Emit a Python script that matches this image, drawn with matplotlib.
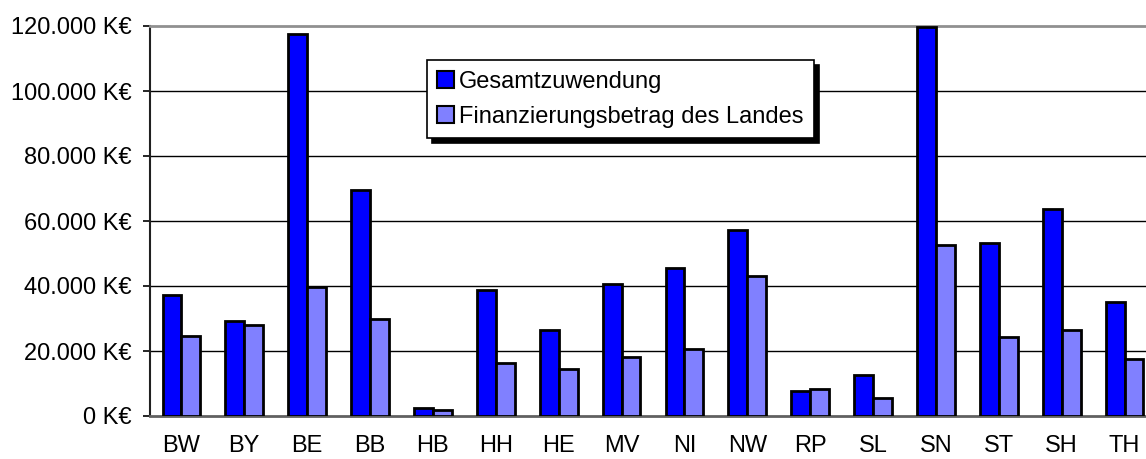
import matplotlib.pyplot as plt
import numpy as np
from matplotlib.ticker import FuncFormatter

plt.rcParams['font.family'] = ['Liberation Sans', 'DejaVu Sans']

laender = ["BW", "BY", "BE", "BB", "HB", "HH", "HE", "MV",
           "NI", "NW", "RP", "SL", "SN", "ST", "SH", "TH"]
gesamt = [37.2, 29.2, 117.4, 69.5, 2.5, 38.9, 26.4, 40.6,
          45.6, 57.2, 7.6, 12.6, 119.7, 53.1, 63.6, 35.0]
land = [24.6, 27.9, 39.6, 29.9, 1.9, 16.2, 14.6, 18.3,
        20.5, 43.1, 8.3, 5.6, 52.6, 24.2, 26.5, 17.4]
yticks = [0, 20, 40, 60, 80, 100, 120]

W, H = 1146, 459
fig = plt.figure(figsize=(W / 100, H / 100), dpi=100)
# plot area runs a little past the right edge of the picture
ax = fig.add_axes([150 / W, 43 / H, 1006 / W, 390 / H])

x = np.arange(len(laender))
bw = 0.3
ax.bar(x - bw / 2, gesamt, bw, color="#0000FF", edgecolor="black",
       linewidth=2, label="Gesamtzuwendung", zorder=3)
ax.bar(x + bw / 2, land, bw, color="#8080FF", edgecolor="black",
       linewidth=2, label="Finanzierungsbetrag des Landes", zorder=3)

ax.set_xlim(-0.5, len(laender) - 0.5)
ax.set_ylim(0, 120)
ax.set_yticks(yticks)
ax.yaxis.set_major_formatter(FuncFormatter(
    lambda v, p: f"{int(v * 1000):,} K€".replace(",", ".")))
ax.set_xticks(x)
ax.set_xticklabels(laender)

for v in yticks[1:-1]:
    ax.axhline(v, color="black", linewidth=1.0, zorder=1)

ax.spines["right"].set_visible(False)
ax.spines["top"].set_color("#909090")
ax.spines["top"].set_linewidth(2)
ax.spines["left"].set_color("#202020")
ax.spines["left"].set_linewidth(1.5)
ax.spines["bottom"].set_color("#606060")
ax.spines["bottom"].set_linewidth(2)

ax.tick_params(axis="y", length=5, width=1.2, pad=8, labelsize=17)
ax.tick_params(axis="x", length=0, pad=14, labelsize=17)

leg = ax.legend(loc="upper left", bbox_to_anchor=(0.275, 0.913),
                borderaxespad=0, fontsize=17, fancybox=False,
                shadow={"color": "black", "alpha": 1, "ox": 3.6, "oy": -3.6},
                edgecolor="black", framealpha=1, borderpad=0.45,
                labelspacing=0.55, handlelength=0.7, handleheight=0.7,
                handletextpad=0.2)
leg.get_frame().set_linewidth(1.2)
for h in leg.legend_handles:
    h.set_linewidth(1.5)

fig.savefig("out.png", dpi=100)
